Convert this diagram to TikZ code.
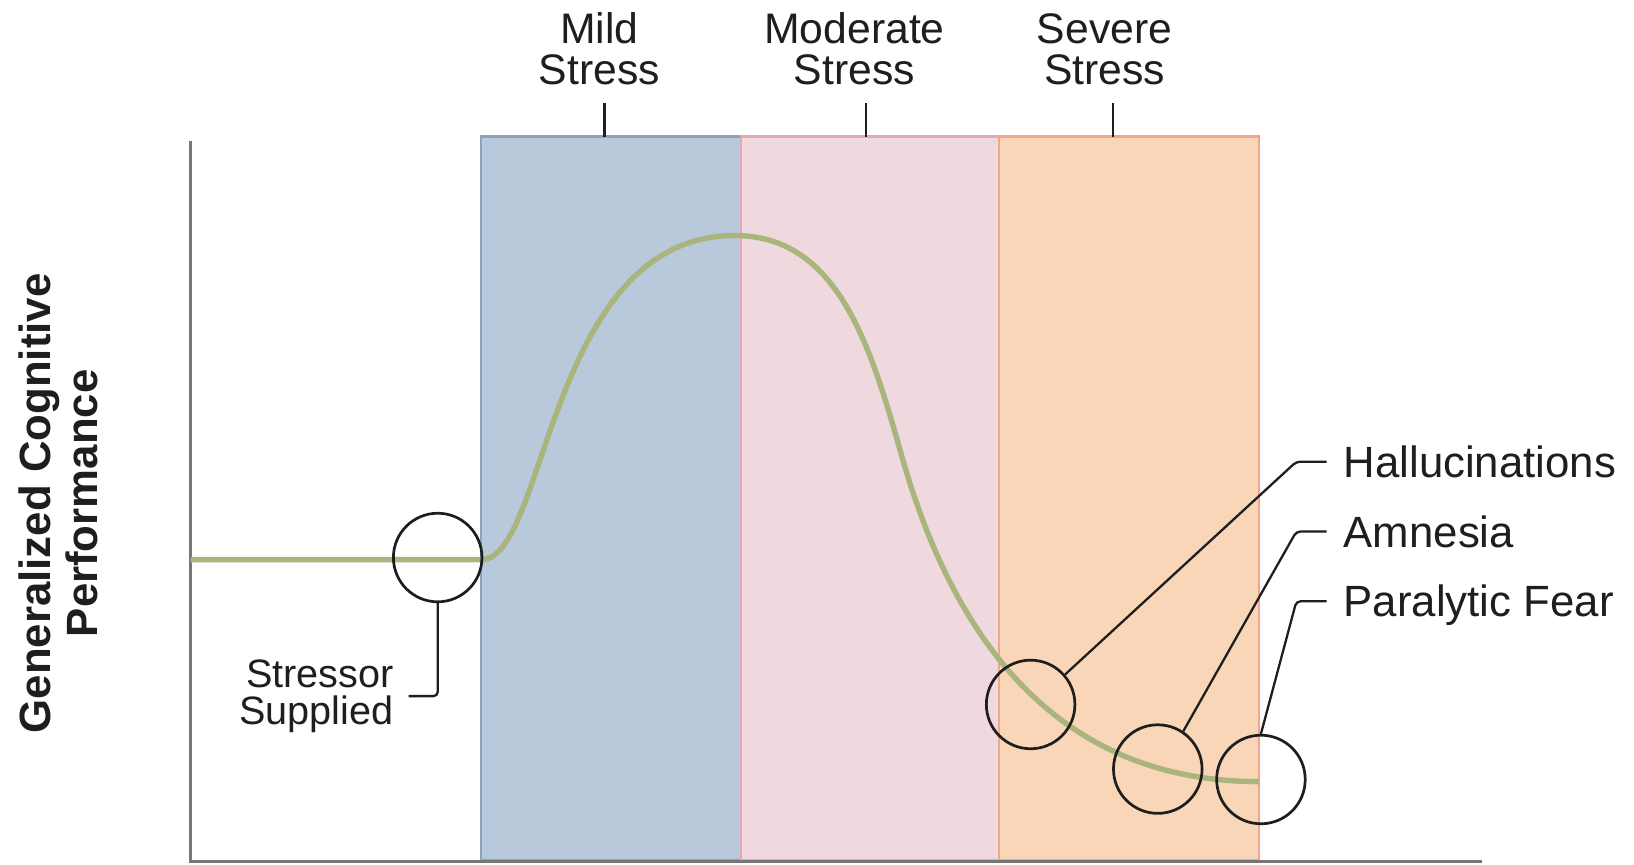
\documentclass[tikz,border=0pt]{standalone}
\usepackage{fontspec}
\setmainfont{Liberation Sans}
\usetikzlibrary{calc}
\definecolor{ink}{HTML}{1E1E1E}
\definecolor{axisgray}{HTML}{767676}
\definecolor{curve}{HTML}{A9B57C}
\definecolor{mildfill}{HTML}{B8C9DB}
\definecolor{milddraw}{HTML}{8BA3BF}
\definecolor{modfill}{HTML}{EFD9DF}
\definecolor{moddraw}{HTML}{E3A7B5}
\definecolor{sevfill}{HTML}{F9D6B8}
\definecolor{sevdraw}{HTML}{EFA68A}
\tikzset{
  band/.style={draw,line width=1pt,anchor=north west,minimum width=124.5pt,minimum height=347pt,inner sep=0pt,outer sep=0pt},
  toplbl/.style={font=\fontsize{20.5}{19.5}\selectfont,text=ink,align=center,anchor=south,inner xsep=0pt,inner ysep=8.5pt},
  sidelbl/.style={font=\fontsize{21}{21}\selectfont,text=ink,anchor=west,inner xsep=8pt,inner ysep=0pt,text height=15pt,text depth=0pt},
  ring/.style={circle,draw=ink,line width=1.3pt,minimum size=42.5pt,inner sep=0pt},
  leader/.style={draw=ink,line width=1.1pt,rounded corners=2pt},
  bandtick/.style={draw=ink,line width=1.1pt},
  axisline/.style={draw=axisgray,line width=1.4pt},
  perf/.style={draw=curve,line width=2.6pt}
}
\begin{document}
\begin{tikzpicture}[x=0.5pt,y=-0.5pt]
\useasboundingbox (0,0) rectangle (1568,830);

% stress bands
\node[band,fill=mildfill,draw=milddraw] (mild) at (462,131) {};
\node[band,fill=modfill,draw=moddraw] (moderate) at (711,131) {};
\node[band,fill=sevfill,draw=sevdraw] (severe) at (959,131) {};

\draw[axisline] (183,135) -- (183,827) -- (1422,827);

% performance curve
\draw[perf] (183,537) -- (462,537) .. controls (525,537) and (525,226) .. (705,226)
  .. controls (805,226) and (836,334) .. (866,440)
  .. controls (921,632) and (1028,750) .. (1208,750);

\node[ring] (stressor) at (420,535) {};
\node[ring] (halluc) at (989,676) {};
\node[ring] (amnesia) at (1111,738) {};
\node[ring] (paralytic) at (1210,748) {};

\node[toplbl] (mildlbl) at (575,99) {Mild\\Stress};
\node[toplbl] (modlbl) at (820,99) {Moderate\\Stress};
\node[toplbl] (sevlbl) at (1060,99) {Severe\\Stress};
\foreach \lbl/\dx in {mildlbl/2.5,modlbl/5.5,sevlbl/4}
  \draw[bandtick] ([xshift=\dx pt]\lbl.south) -- ([xshift=\dx pt]\lbl.south |- mild.north);

\node[sidelbl] (hallucl) at (1273,443) {Hallucinations};
\node[sidelbl] (amnesial) at (1273,510) {Amnesia};
\node[sidelbl] (paralyticl) at (1273,577) {Paralytic Fear};
\draw[leader] (halluc.41) -- ([xshift=-14.5pt]hallucl.west) -- (hallucl.west);
\draw[leader] (amnesia.56) -- ([xshift=-14.5pt]amnesial.west) -- (amnesial.west);
\draw[leader] (paralytic.north) -- ([xshift=-14.5pt]paralyticl.west) -- (paralyticl.west);

\node[font=\fontsize{19}{18}\selectfont,text=ink,align=right,anchor=east,inner xsep=7pt,inner ysep=0pt] (stressorl) at (392,668) {Stressor\\Supplied};
\draw[leader] (stressor.south) |- (stressorl.east);

\node[font=\bfseries\fontsize{21}{23}\selectfont,text=ink,align=center,rotate=90] (ylbl) at (56,483) {Generalized Cognitive\\Performance};
\end{tikzpicture}
\end{document}
